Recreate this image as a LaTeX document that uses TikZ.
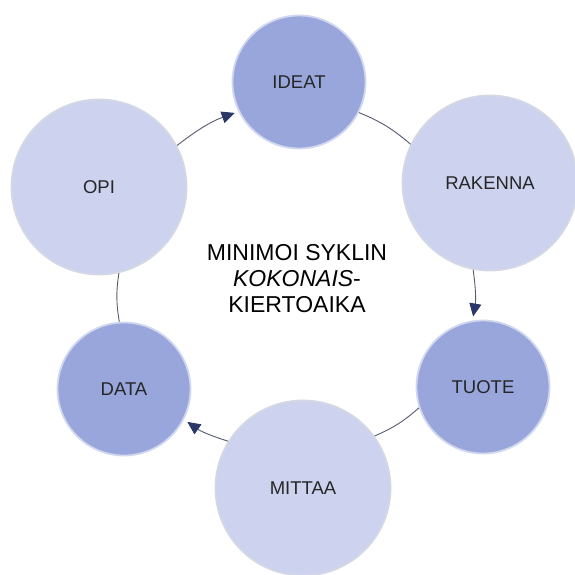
\documentclass[tikz,border=0pt]{standalone}
\usepackage{fontspec}
\setmainfont{Liberation Sans}
\usetikzlibrary{arrows.meta}

\definecolor{darkfill}{HTML}{98A6DC}
\definecolor{lightfill}{HTML}{CDD3EF}
\definecolor{linkgray}{HTML}{565B6E}
\definecolor{tipnavy}{HTML}{2B3766}

\begin{document}
\begin{tikzpicture}[
        x=1pt,
        y=1pt,
        every node/.style={font=\fontsize{18.5}{22}\selectfont, text=black!85},
        darkstep/.style={circle, fill=darkfill, draw=darkfill!45!white, line width=1.8pt,
            minimum size=133pt, inner sep=0pt},
        lightstep/.style={circle, fill=lightfill, draw=lightfill!55!white!85!gray, line width=1.8pt,
            minimum size=175pt, inner sep=0pt},
        link/.style={draw=linkgray, line width=0.9pt, bend left=9},
        arrowlink/.style={link, -{Triangle[length=13pt, width=12pt, color=tipnavy]}, shorten >=4pt}
    ]
        \path[use as bounding box] (0,0) rectangle (574,575);

        % Cycle steps
        \node[darkstep] (ideat) at (299,493){IDEAT};
        \node[lightstep] (rakenna) at (490,392){RAKENNA};
        \node[darkstep] (tuote) at (483,188){TUOTE};
        \node[lightstep] (mittaa) at (303,87){MITTAA};
        \node[darkstep] (data) at (124,186){DATA};
        \node[lightstep] (opi) at (99,388){OPI};

        % Centre text
        \node[align=center, font=\fontsize{23}{26}\selectfont, text=black] (goal) at (297,296)
            {MINIMOI SYKLIN\\\textit{KOKONAIS}-\\KIERTOAIKA};

        % Connectors
        \draw[arrowlink] (opi.28) to (ideat.206);
        \draw[link] (ideat.-27) to (rakenna.154);
        \draw[arrowlink] (rakenna.259) to (tuote.99);
        \draw[link] (tuote.198) to (mittaa.36);
        \draw[arrowlink] (mittaa.148) to (data.-27);
        \draw[link] (data.94) to (opi.-77);
    \end{tikzpicture}
\end{document}
